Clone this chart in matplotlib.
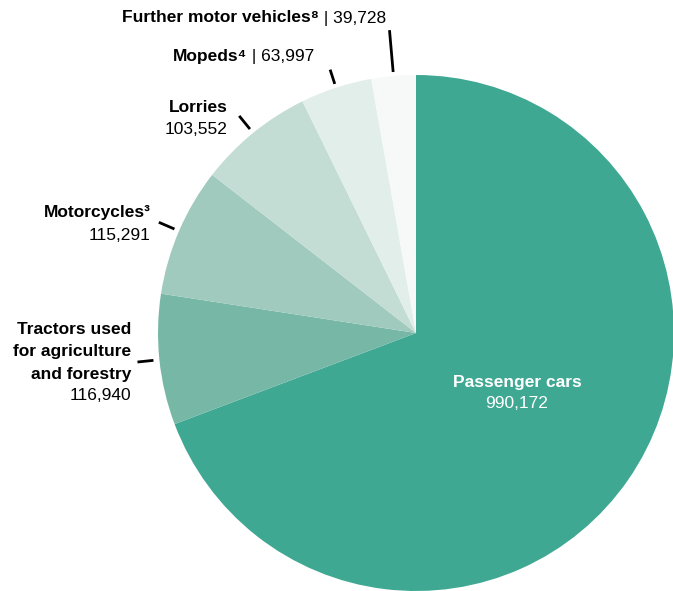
import numpy as np
import matplotlib.pyplot as plt

plt.rcParams['font.family'] = ['Liberation Sans', 'DejaVu Sans']

# Daten
labels = ['Passenger cars', 'Tractors used\nfor agriculture\nand forestry', 'Motorcycles³',
          'Lorries', 'Mopeds⁴', 'Further motor vehicles⁸']
values = [990172, 116940, 115291, 103552, 63997, 39728]
colors = ['#3fa892', '#77b7a6', '#9fcabd', '#c3ddd5', '#e2eeea', '#f6f9f8']

W, H = 673, 591
fig = plt.figure(figsize=(W / 100, H / 100), dpi=100)
ax = fig.add_axes([0, 0, 1, 1])

cx, cy, R = 416, H - 333, 258
wedges, _ = ax.pie(values, colors=colors, startangle=90, counterclock=False,
                   radius=R, center=(cx, cy), frame=True)
ax.set_xlim(0, W)
ax.set_ylim(0, H)
ax.set_aspect('equal')
ax.axis('off')


def fmt(v):
    return f'{v:,}'


# 引線 (inner offset, outer offset)
lead = {1: (6, 22), 2: (5, 22), 3: (5, 22), 4: (4, 19), 5: (4, 46)}
for i, (a, b) in lead.items():
    w = wedges[i]
    ang = np.deg2rad((w.theta1 + w.theta2) / 2)
    x = [cx + (R + a) * np.cos(ang), cx + (R + b) * np.cos(ang)]
    y = [cy + (R + a) * np.sin(ang), cy + (R + b) * np.sin(ang)]
    ax.plot(x, y, color='black', linewidth=2, solid_capstyle='butt')

fs = 12.5
# Passenger cars
ax.text(517, H - 382, labels[0], ha='center', va='center', fontsize=fs,
        fontweight='bold', color='white')
ax.text(517, H - 404, fmt(values[0]), ha='center', va='center', fontsize=fs,
        color='white')

# Tractors (one text per line)
for k, line in enumerate(labels[1].split('\n')):
    ax.text(131, H - (329 + 22.5 * k), line, ha='right', va='center', fontsize=fs,
            fontweight='bold')
ax.text(131, H - 396, fmt(values[1]), ha='right', va='center', fontsize=fs)

# Motorcycles
ax.text(151, H - 213, labels[2], ha='right', va='center', fontsize=fs, fontweight='bold')
ax.text(151, H - 235, fmt(values[2]), ha='right', va='center', fontsize=fs)

# Lorries
ax.text(228, H - 107, labels[3], ha='right', va='center', fontsize=fs, fontweight='bold')
ax.text(228, H - 129, fmt(values[3]), ha='right', va='center', fontsize=fs)

# Mopeds / Further: bold name + regular value on one line
for i, (x0, y0) in {4: (173, 57), 5: (122, 18)}.items():
    t = ax.text(x0, H - y0, labels[i], ha='left', va='center', fontsize=fs,
                fontweight='bold')
    ax.annotate(' | ' + fmt(values[i]), xy=(1, 0.5), xycoords=t, ha='left',
                va='center', fontsize=fs)

fig.savefig('out.png', dpi=100)
